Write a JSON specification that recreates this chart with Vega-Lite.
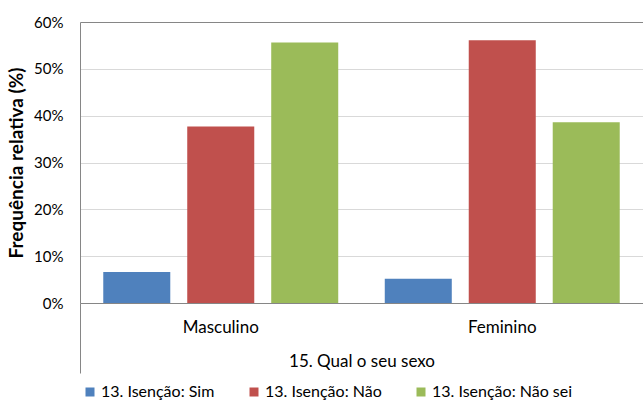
{
  "$schema": "https://vega.github.io/schema/vega-lite/v6.json",
  "width": 563,
  "height": 281,
  "autosize": {"type": "none"},
  "padding": {"left": 80, "top": 22, "right": 0, "bottom": 97},
  "background": "white",
  "config": {
    "font": "Lato",
    "view": {"stroke": null},
    "axis": {"labelFont": "Lato", "titleFont": "Lato", "labelColor": "#000000", "titleColor": "#000000"}
  },
  "data": {
    "values": [
      {"sexo": "Masculino", "serie": "13. Isenção: Sim", "valor": 0.066},
      {"sexo": "Masculino", "serie": "13. Isenção: Não", "valor": 0.377},
      {"sexo": "Masculino", "serie": "13. Isenção: Não sei", "valor": 0.556},
      {"sexo": "Feminino", "serie": "13. Isenção: Sim", "valor": 0.052},
      {"sexo": "Feminino", "serie": "13. Isenção: Não", "valor": 0.561},
      {"sexo": "Feminino", "serie": "13. Isenção: Não sei", "valor": 0.386}
    ]
  },
  "mark": {"type": "bar"},
  "encoding": {
    "x": {
      "field": "sexo",
      "type": "nominal",
      "sort": ["Masculino", "Feminino"],
      "scale": {"paddingInner": 0, "paddingOuter": 0},
      "axis": {
        "title": "15. Qual o seu sexo",
        "titleFontSize": 17,
        "titleFontWeight": "normal",
        "titlePadding": -20,
        "titleBaseline": "top",
        "labelAngle": 0,
        "labelFontSize": 17,
        "labelPadding": -54,
        "labelBaseline": "top",
        "bandPosition": 0,
        "ticks": true,
        "tickSize": 70,
        "tickColor": {"condition": {"test": "datum.value === 'Masculino'", "value": "#868686"}, "value": "transparent"},
        "domainColor": "#868686",
        "labelBound": false
      }
    },
    "xOffset": {
      "field": "serie",
      "type": "nominal",
      "sort": ["13. Isenção: Sim", "13. Isenção: Não", "13. Isenção: Não sei"],
      "scale": {"paddingInner": 0.202, "paddingOuter": 0.277}
    },
    "y": {
      "field": "valor",
      "type": "quantitative",
      "scale": {"domain": [0, 0.6], "nice": false},
      "axis": {
        "title": "Frequência relativa (%)",
        "titleFontSize": 19,
        "titleFontWeight": "bold",
        "titlePadding": 7,
        "format": ".0%",
        "values": [0, 0.1, 0.2, 0.3, 0.4, 0.5, 0.6],
        "labelFontSize": 15,
        "labelPadding": 17,
        "ticks": false,
        "domainColor": "#868686",
        "gridColor": {"condition": {"test": "datum.value === 0.6", "value": "#868686"}, "value": "#d9d9d9"}
      }
    },
    "color": {
      "field": "serie",
      "type": "nominal",
      "sort": ["13. Isenção: Sim", "13. Isenção: Não", "13. Isenção: Não sei"],
      "scale": {"domain": ["13. Isenção: Sim", "13. Isenção: Não", "13. Isenção: Não sei"], "range": ["#4f81bd", "#c0504d", "#9bbb59"]},
      "legend": {
        "title": null,
        "orient": "none",
        "legendX": 2,
        "legendY": 362,
        "direction": "horizontal",
        "symbolType": "square",
        "symbolSize": 81,
        "symbolStrokeWidth": 0,
        "labelFontSize": 16,
        "labelFont": "Lato",
        "labelColor": "#000000",
        "columnPadding": 31,
        "labelOffset": 3
      }
    }
  }
}
